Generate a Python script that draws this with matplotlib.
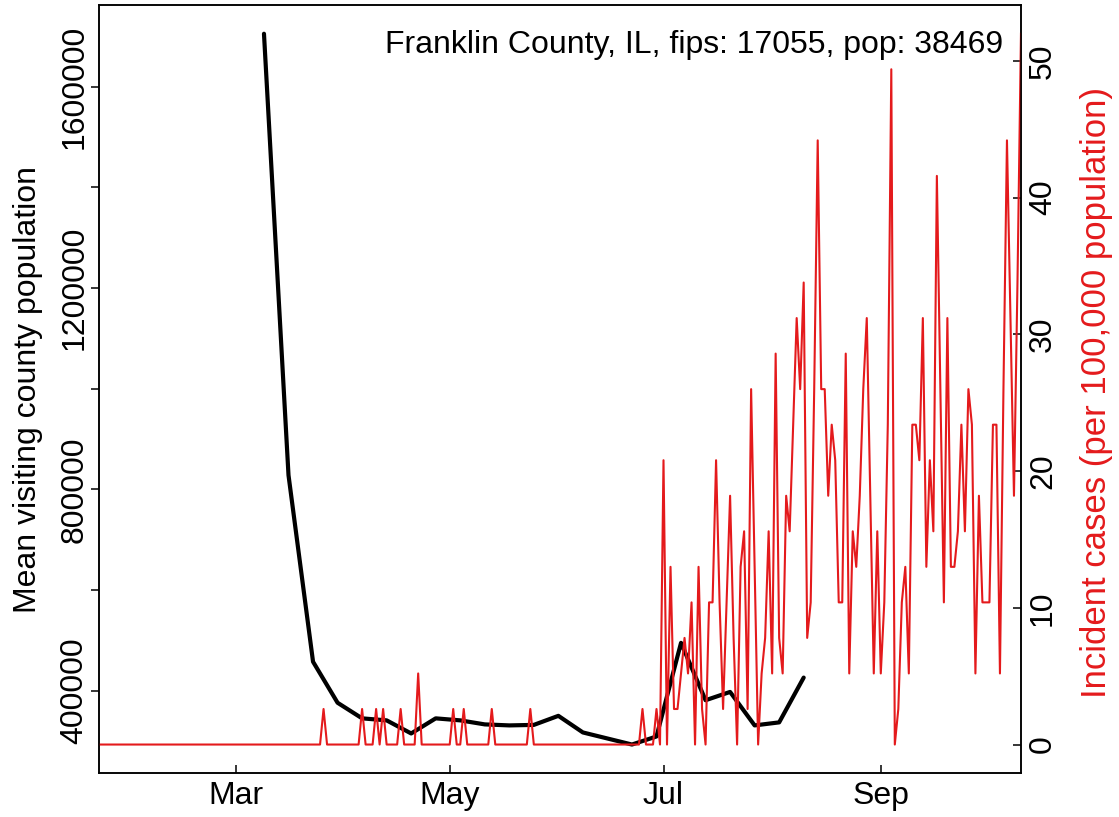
import numpy as np
import pandas as pd
import matplotlib
matplotlib.use("Agg")
import matplotlib.pyplot as plt
import matplotlib.dates as mdates

plt.rcParams['font.family'] = ['Liberation Sans', 'DejaVu Sans']

county_text = "Franklin County, IL, fips: 17055, pop: 38469"
population = 38469

# weekly mean visiting population (black line)
visit_start = "2020-03-09"
visit_pop = [1705000, 828000, 457500, 376000, 345000, 341000, 315000, 345000,
             341000, 333000, 331000, 332000, 350000, 317000, 305000, 293000,
             309000, 495000, 381000, 397500, 331000, 337000, 426000]

# daily new cases (red line); early isolated cases, then a daily run
case_start, case_end = "2020-01-22", "2020-10-11"
early_cases = {"2020-03-26": 1, "2020-04-06": 1, "2020-04-10": 1, "2020-04-12": 1,
               "2020-04-17": 1, "2020-04-22": 2, "2020-05-02": 1, "2020-05-05": 1,
               "2020-05-13": 1, "2020-05-24": 1}
run_start = "2020-06-25"
run_cases = [1, 0, 0, 0, 1, 0, 8, 0, 5, 1,
             1, 2, 3, 2, 4, 0, 5, 1, 0, 4,
             4, 8, 4, 1, 4, 7, 3, 0, 5, 6,
             1, 10, 5, 0, 2, 3, 6, 2, 11, 3,
             2, 7, 6, 9, 12, 10, 13, 3, 4, 10,
             17, 10, 10, 7, 9, 8, 4, 4, 11, 2,
             6, 5, 7, 10, 12, 7, 2, 6, 2, 4,
             9, 19, 0, 1, 4, 5, 2, 9, 9, 8,
             12, 5, 8, 6, 16, 10, 4, 12, 5, 5,
             6, 9, 6, 10, 9, 2, 7, 4, 4, 4,
             9, 9, 2, 10, 17, 12, 7, 13, 20]

month_ticks = ["2020-03-01", "2020-05-01", "2020-07-01", "2020-09-01"]
month_labels = ["Mar", "May", "Jul", "Sep"]
left_ticks = [400000, 600000, 800000, 1000000, 1200000, 1400000, 1600000]
left_labels = ["400000", "", "800000", "", "1200000", "", "1600000"]
right_ticks = [0, 10, 20, 30, 40, 50]

red = "#E41A1C"
FS = 23

# build series
visit_dates = pd.date_range(visit_start, periods=len(visit_pop), freq="7D")
case_dates = pd.date_range(case_start, case_end, freq="D")
cases = pd.Series(0.0, index=case_dates)
for d, c in early_cases.items():
    cases[pd.Timestamp(d)] = c
run_idx = pd.date_range(run_start, periods=len(run_cases), freq="D")
cases[run_idx] = run_cases
incidence = cases / population * 1e5

fig = plt.figure(figsize=(11.19, 8.17), dpi=100)
ax = fig.add_axes([0.0887, 0.0539, 0.8237, 0.9396])
ax2 = ax.twinx()

ax.plot(visit_dates, visit_pop, color="black", lw=3.0, solid_capstyle="round",
        solid_joinstyle="round")
ax2.plot(incidence.index, incidence.values, color=red, lw=1.5)

# R-style 4% padding on y, exact range on x
lo, hi = min(visit_pop), max(visit_pop)
ax.set_ylim(lo - 0.04 * (hi - lo), hi + 0.04 * (hi - lo))
lo2, hi2 = incidence.min(), incidence.max()
ax2.set_ylim(lo2 - 0.04 * (hi2 - lo2), hi2 + 0.04 * (hi2 - lo2))
ax.set_xlim(case_dates[0], case_dates[-1])

ax.set_xticks(pd.to_datetime(month_ticks))
ax.set_xticklabels(month_labels)
ax.set_yticks(left_ticks)
ax.set_yticklabels(left_labels, rotation=90, va="center")
ax2.set_yticks(right_ticks)
ax2.set_yticklabels([str(t) for t in right_ticks], rotation=90, va="center")

ax.tick_params(axis="x", direction="in", length=6, width=1.1, labelsize=FS, pad=6)
ax.tick_params(axis="y", direction="out", length=6, width=1.1, labelsize=FS, pad=1)
ax2.tick_params(axis="y", direction="in", length=6, width=1.1, labelsize=FS, pad=5)

for a in (ax, ax2):
    for s in a.spines.values():
        s.set_linewidth(1.1)

ax.set_ylabel("Mean visiting county population", fontsize=FS)
ax.yaxis.set_label_coords(-0.061, 0.5)
ax2.set_ylabel("Incident cases (per 100,000 population)", fontsize=25, color=red,
               rotation=90)
ax2.yaxis.set_label_coords(1.064, 0.496)

ax.text(0.9805, 0.948, county_text, transform=ax.transAxes, ha="right",
        va="center", fontsize=FS)

fig.savefig("out.png", dpi=100)
